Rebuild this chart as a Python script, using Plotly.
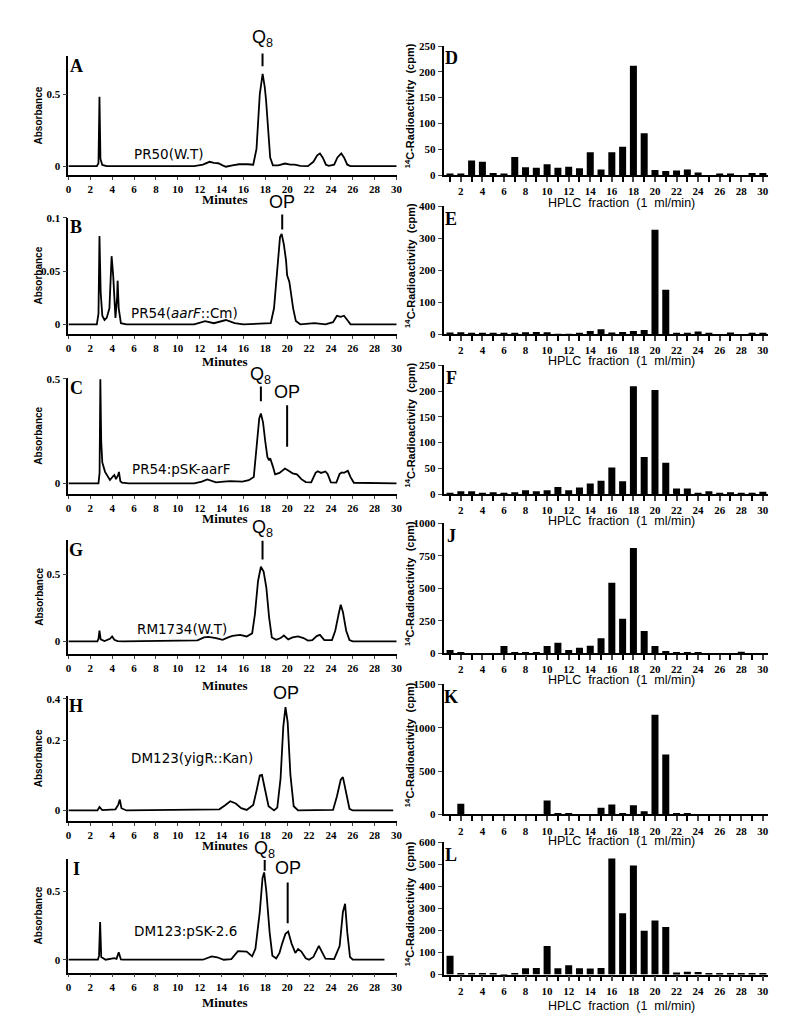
import plotly.graph_objects as go
from plotly.subplots import make_subplots

W, H = 788, 1016

# HPLC traces (minutes, absorbance)
a_min = [0, 2.6, 2.75, 2.84, 2.93, 3.1, 3.5, 4.3, 4.6, 4.9, 11.5, 12.3, 12.9, 13.3, 13.7, 14.1, 14.4, 15.0, 15.6,
         16.4, 16.9, 17.2, 17.5, 17.76, 17.95, 18.07, 18.25, 18.45, 18.7, 19.2, 19.8, 20.3, 20.7, 21.2, 21.9,
         22.4, 22.75, 23.0, 23.25, 23.55, 23.8, 24.3, 24.6, 24.95, 25.2, 25.5, 25.8, 30]
a_abs = [0, 0, 0.02, 0.48, 0.05, 0.008, 0, 0, 0.005, 0, 0, 0.01, 0.03, 0.022, 0.02, 0.005, -0.004, 0.005, 0.013,
         0.013, 0.01, 0.12, 0.5, 0.64, 0.55, 0.46, 0.25, 0.06, 0.005, 0.005, 0.018, 0.01, 0.01, 0.002, 0,
         0.03, 0.075, 0.088, 0.06, 0.01, 0.002, 0.01, 0.06, 0.088, 0.06, 0.01, 0, 0]

b_min = [0, 2.6, 2.75, 2.84, 2.95, 3.1, 3.3, 3.5, 3.75, 3.95, 4.1, 4.3, 4.45, 4.5, 4.6, 4.8, 5.3, 11.5, 12.5,
         13.3, 14.4, 15.2, 16, 18.5, 18.8, 19.1, 19.35, 19.5, 19.7, 19.9, 20.0, 20.2, 20.4, 20.55, 20.8, 21.2,
         22.5, 23.5, 24.2, 24.55, 24.9, 25.2, 25.5, 25.8, 30]
b_abs = [0, 0, 0.01, 0.083, 0.03, 0.008, 0.004, 0.006, 0.015, 0.064, 0.045, 0.006, 0.025, 0.041, 0.015, 0.001,
         0, 0, 0.003, 0.001, 0.004, 0.001, 0, 0.001, 0.015, 0.05, 0.082, 0.085, 0.075, 0.06, 0.046, 0.04, 0.025,
         0.015, 0.003, 0, 0.001, 0, 0.002, 0.008, 0.007, 0.008, 0.004, 0, 0]

c_min = [0, 2.75, 2.85, 2.92, 3.0, 3.1, 3.35, 3.8, 4.1, 4.2, 4.35, 4.55, 4.62, 4.75, 4.9, 5.5, 11.5, 12.2, 12.7,
         13.5, 14.2, 14.8, 15.9, 16.5, 16.95, 17.2, 17.45, 17.6, 17.8, 18.0, 18.2, 18.35, 18.45, 18.7, 18.9,
         19.3, 19.8, 20.1, 20.5, 20.9, 21.3, 21.7, 22.2, 22.6, 22.8, 23.1, 23.5, 23.7, 24.0, 24.5, 24.8, 25.0,
         25.2, 25.55, 25.8, 26.1, 30]
c_abs = [0, 0, 0.05, 0.497, 0.2, 0.1, 0.055, 0.016, 0.035, 0.04, 0.02, 0.04, 0.055, 0.01, 0.003, 0, 0, 0.008,
         0.019, 0.005, 0.008, 0.011, 0.008, 0.015, 0.03, 0.17, 0.31, 0.334, 0.29, 0.2, 0.125, 0.11, 0.12, 0.08,
         0.043, 0.05, 0.071, 0.062, 0.048, 0.043, 0.02, 0.006, 0.005, 0.05, 0.058, 0.05, 0.057, 0.045, 0.005,
         0.004, 0.045, 0.052, 0.05, 0.06, 0.03, 0.003, 0]

g_min = [0, 2.65, 2.75, 2.84, 2.95, 3.3, 3.8, 4.0, 4.2, 4.5, 5.0, 11.0, 11.8, 12.4, 12.8, 13.5, 14.1, 14.6, 15.0,
         15.7, 16.3, 16.8, 17.05, 17.34, 17.6, 17.85, 18.1, 18.35, 18.6, 19.0, 19.4, 19.7, 20.1, 20.5, 21.0,
         21.5, 21.9, 22.3, 22.7, 23.0, 23.4, 24.1, 24.4, 24.7, 24.9, 25.1, 25.4, 25.7, 26.0, 30]
g_abs = [0, 0, 0.02, 0.08, 0.015, 0.003, 0.02, 0.037, 0.012, 0.003, 0, 0.005, 0.008, 0.03, 0.034, 0.024, 0.012,
         0.03, 0.042, 0.049, 0.037, 0.06, 0.2, 0.45, 0.556, 0.52, 0.4, 0.18, 0.03, 0.012, 0.025, 0.044, 0.015,
         0.03, 0.037, 0.025, 0.006, 0.01, 0.04, 0.049, 0.01, 0.01, 0.08, 0.2, 0.273, 0.22, 0.08, 0.01, 0, 0]

# panel H is drawn on the scan's own (uneven) absorbance scale
h_min = [0, 2.65, 2.84, 3.1, 4.3, 4.55, 4.7, 4.85, 5.3, 10.0, 13.8, 14.3, 14.8, 15.3, 15.8, 16.3, 16.9, 17.2,
         17.5, 17.7, 17.95, 18.3, 18.8, 19.1, 19.4, 19.65, 19.85, 20.05, 20.3, 20.6, 21.0, 24.2, 24.55, 24.9,
         25.1, 25.4, 25.7, 26.0, 29.7]
h_abs = [0, 0, 0.012, 0.001, 0.004, 0.02, 0.039, 0.008, 0, 0.003, 0.004, 0.018, 0.033, 0.025, 0.008, 0.002,
         0.02, 0.07, 0.125, 0.127, 0.08, 0.015, 0, 0.01, 0.115, 0.3, 0.37, 0.315, 0.127, 0.015, 0, 0.002, 0.05,
         0.11, 0.119, 0.06, 0.006, 0, 0]

i_min = [0, 2.7, 2.8, 2.9, 3.0, 3.4, 4.2, 4.4, 4.6, 4.8, 5.0, 12.3, 13.1, 13.6, 14.2, 14.9, 15.5, 16.3, 16.8,
         17.1, 17.5, 17.75, 17.9, 18.1, 18.4, 18.65, 19.0, 19.3, 19.55, 19.85, 20.1, 20.4, 20.75, 21.0, 21.3,
         21.7, 22.0, 22.4, 22.9, 23.2, 23.5, 24.3, 24.8, 25.1, 25.3, 25.5, 25.75, 26.0, 28.9]
i_abs = [0, 0, 0.03, 0.276, 0.02, 0, 0.012, 0.007, 0.054, 0.002, 0, 0, 0.024, 0.018, 0, 0.005, 0.063, 0.059,
         0.025, 0.08, 0.35, 0.6, 0.64, 0.5, 0.2, 0.03, 0.01, 0.05, 0.12, 0.19, 0.207, 0.12, 0.05, 0.078, 0.06,
         0.01, 0, 0.02, 0.102, 0.06, 0.008, 0.005, 0.1, 0.35, 0.41, 0.2, 0.02, 0, 0]

# 14C radioactivity per HPLC fraction
fractions = list(range(1, 31))
d_cpm = [1, 1, 28, 26, 4, 2, 35, 15, 14, 21, 14, 16, 13, 44, 11, 44, 55, 212, 81, 10, 8, 9, 11, 5, 0, 2, 2, 0, 4, 4]
e_cpm = [5, 6, 4, 4, 4, 3, 2, 6, 7, 6, 1, 1, 4, 10, 15, 5, 7, 10, 13, 326, 139, 4, 2, 8, 3, 0, 5, 0, 2, 4]
f_cpm = [1, 6, 6, 3, 4, 1, 4, 8, 6, 8, 14, 8, 13, 21, 26, 52, 25, 209, 72, 202, 61, 11, 11, 1, 6, 2, 4, 2, 3, 5]
j_cpm = [25, 5, 0, 0, 0, 56, 8, 10, 5, 56, 81, 25, 43, 58, 116, 542, 266, 810, 172, 56, 18, 5, 5, 5, 0, 0, 0, 13,
         0, 0]
k_cpm = [0, 122, 0, 0, 4, 0, 0, 0, 0, 160, 15, 8, 0, 4, 76, 114, 8, 106, 38, 1150, 691, 11, 8, 0, 0, 0, 0, 0, 0, 0]
l_cpm = [85, 7, 3, 3, 3, 1, 4, 28, 30, 130, 28, 42, 28, 27, 30, 527, 279, 496, 199, 246, 216, 9, 13, 12, 3, 7, 6,
         6, 7, 3]

minute_ticks = list(range(0, 31, 2))
fraction_ticks = list(range(2, 31, 2))

left = [
    dict(letter="A", x=a_min, y=a_abs, top=43, bot=163, rng=[-0.062, 0.76], tv=[0, 0.5], tt=["0", "0.5"],
         strain="PR50(W.T)", sx=160, sy=142, minutes_y=188),
    dict(letter="B", x=b_min, y=b_abs, top=206, bot=324, rng=[-0.0093, 0.1003], tv=[0, 0.05, 0.1],
         tt=["0", "0.05", "0.1"], strain="PR54(<i>aarF</i>::Cm)", sx=175, sy=303, minutes_y=352),
    dict(letter="C", x=c_min, y=c_abs, top=368, bot=486, rng=[-0.052, 0.505], tv=[0, 0.5], tt=["0", "0.5"],
         strain="PR54:pSK-aarF", sx=172, sy=460, minutes_y=511),
    dict(letter="G", x=g_min, y=g_abs, top=532, bot=648, rng=[-0.096, 0.757], tv=[0, 0.5], tt=["0", "0.5"],
         strain="RM1734(W.T)", sx=173, sy=622, minutes_y=680),
    dict(letter="H", x=h_min, y=h_abs, top=690, bot=817, rng=[-0.039, 0.41], tv=[0, 0.25, 0.4],
         tt=["0", "0.2", "0.4"], strain="DM123(yigR::Kan)", sx=183, sy=753, minutes_y=841),
    dict(letter="I", x=i_min, y=i_abs, top=855, bot=970, rng=[-0.094, 0.739], tv=[0, 0.5], tt=["0", "0.5"],
         strain="DM123:pSK-2.6", sx=176, sy=928, minutes_y=1000),
]

right = [
    dict(letter="D", y=d_cpm, top=32, bot=163, ymax=250, step=50, title_y=190),
    dict(letter="E", y=e_cpm, top=194, bot=324, ymax=400, step=100, title_y=350),
    dict(letter="F", y=f_cpm, top=355, bot=486, ymax=250, step=50, title_y=512),
    dict(letter="J", y=j_cpm, top=515, bot=647, ymax=1000, step=250, title_y=673),
    dict(letter="K", y=k_cpm, top=678, bot=810, ymax=1500, step=500, title_y=836),
    dict(letter="L", y=l_cpm, top=838, bot=972, ymax=600, step=100, title_y=1003),
]

# peak markers: (row, label, minute, label_y, line_top, line_bottom)
markers = [
    (0, "Q<sub>8</sub>", 17.75, 25, 40, 53),
    (1, "OP", 19.55, 190, 203, 218),
    (2, "Q<sub>8</sub>", 17.6, 366, 377, 392),
    (2, "OP", 20.0, 383, 396, 438),
    (3, "Q<sub>8</sub>", 17.75, 521, 533, 552),
    (4, "OP", 19.9, 687, None, None),
    (5, "Q<sub>8</sub>", 17.95, 845, 856, 867),
    (5, "OP", 20.05, 864, 879, 920),
]


def px_x(p):
    return p / W


def px_y(p):
    return 1 - p / H


def note(x, y, text, font, **kw):
    return dict(x=px_x(x), y=px_y(y), xref="paper", yref="paper", xanchor="center", yanchor="middle",
                text=text, showarrow=False, font=font, **kw)


SERIF = "Liberation Serif"
SANS = "Liberation Sans"
tickfont = dict(family=SERIF, size=11, color="black", weight="bold")
letter_font = dict(family=SERIF, size=18, color="black", weight="bold")

fig = make_subplots(rows=6, cols=2)
ann = []
shapes = []

for r, p in enumerate(left, start=1):
    fig.add_trace(go.Scatter(x=p["x"], y=p["y"], mode="lines", line=dict(color="black", width=1.8),
                             showlegend=False), row=r, col=1)
    fig.update_xaxes(domain=[px_x(58), px_x(390)], range=[0, 30.05], tickvals=minute_ticks,
                     ticks="outside", ticklen=3, tickwidth=1.2, showline=True, linewidth=1.8,
                     linecolor="black", showgrid=False, zeroline=False, tickfont=tickfont, row=r, col=1)
    fig.update_yaxes(domain=[px_y(p["bot"]), px_y(p["top"])], range=p["rng"], tickvals=p["tv"],
                     ticktext=p["tt"], ticks="outside", ticklen=4, tickwidth=1.2, showline=True,
                     linewidth=1.8, linecolor="black", showgrid=False, zeroline=False, tickfont=tickfont,
                     row=r, col=1)
    mid = (p["top"] + p["bot"]) / 2
    ann += [
        note(66, p["top"] + 10, p["letter"], letter_font),
        note(p["sx"], p["sy"], p["strain"], dict(family="DejaVu Sans", size=13.5, color="black")),
        note(216, p["minutes_y"], "Minutes", dict(family=SERIF, size=13, color="black", weight="bold")),
        note(28, mid, "Absorbance", dict(family=SANS, size=10, color="black", weight="bold"), textangle=-90),
    ]

for row, label, t, ly, lt, lb in markers:
    xref = "x" if row == 0 else "x%d" % (2 * row + 1)
    ann.append(dict(x=t, xref=xref, y=px_y(ly), yref="paper", xanchor="center", yanchor="middle",
                    text=label, showarrow=False, font=dict(family=SANS, size=18, color="black")))
    if lt is not None:
        shapes.append(dict(type="line", xref=xref, yref="paper", x0=t, x1=t, y0=px_y(lt), y1=px_y(lb),
                           line=dict(color="black", width=2)))

for r, p in enumerate(right, start=1):
    fig.add_trace(go.Bar(x=fractions, y=p["y"], marker=dict(color="black", line=dict(width=0)),
                         showlegend=False), row=r, col=2)
    fig.update_xaxes(domain=[px_x(437), px_x(765)], range=[0.4, 30.5], tickvals=fraction_ticks,
                     ticks="outside", ticklen=5, tickwidth=1.5,
                     minor=dict(tickmode="linear", tick0=1, dtick=1, ticks="outside", ticklen=5, tickwidth=1.5,
                                tickcolor="black", showgrid=False),
                     showline=True, linewidth=1.8, linecolor="black", showgrid=False, zeroline=False,
                     tickfont=tickfont, row=r, col=2)
    fig.update_yaxes(domain=[px_y(p["bot"]), px_y(p["top"])], range=[0, p["ymax"] * 1.003],
                     tickvals=list(range(0, p["ymax"] + 1, p["step"])), ticks="outside", ticklen=4,
                     tickwidth=1.2, showline=True, linewidth=1.8, linecolor="black", showgrid=False,
                     zeroline=False, tickfont=tickfont, row=r, col=2)
    mid = (p["top"] + p["bot"]) / 2
    ann += [
        note(445, p["top"] + 13, p["letter"], letter_font),
        note(617, p["title_y"] + 1, "HPLC\u00a0\u00a0fraction\u00a0\u00a0(1\u00a0\u00a0ml/min)",
             dict(family=SANS, size=12.5, color="black")),
        note(403, mid - 5, "<sup>14</sup>C-Radioactivity\u00a0\u00a0(cpm)",
             dict(family=SANS, size=11, color="black", weight="bold"), textangle=-90),
    ]

fig.update_layout(
    width=W, height=H, margin=dict(l=0, r=0, t=0, b=0),
    paper_bgcolor="white", plot_bgcolor="white", bargap=0.35,
    annotations=ann, shapes=shapes,
)

fig.write_html("out.html")
